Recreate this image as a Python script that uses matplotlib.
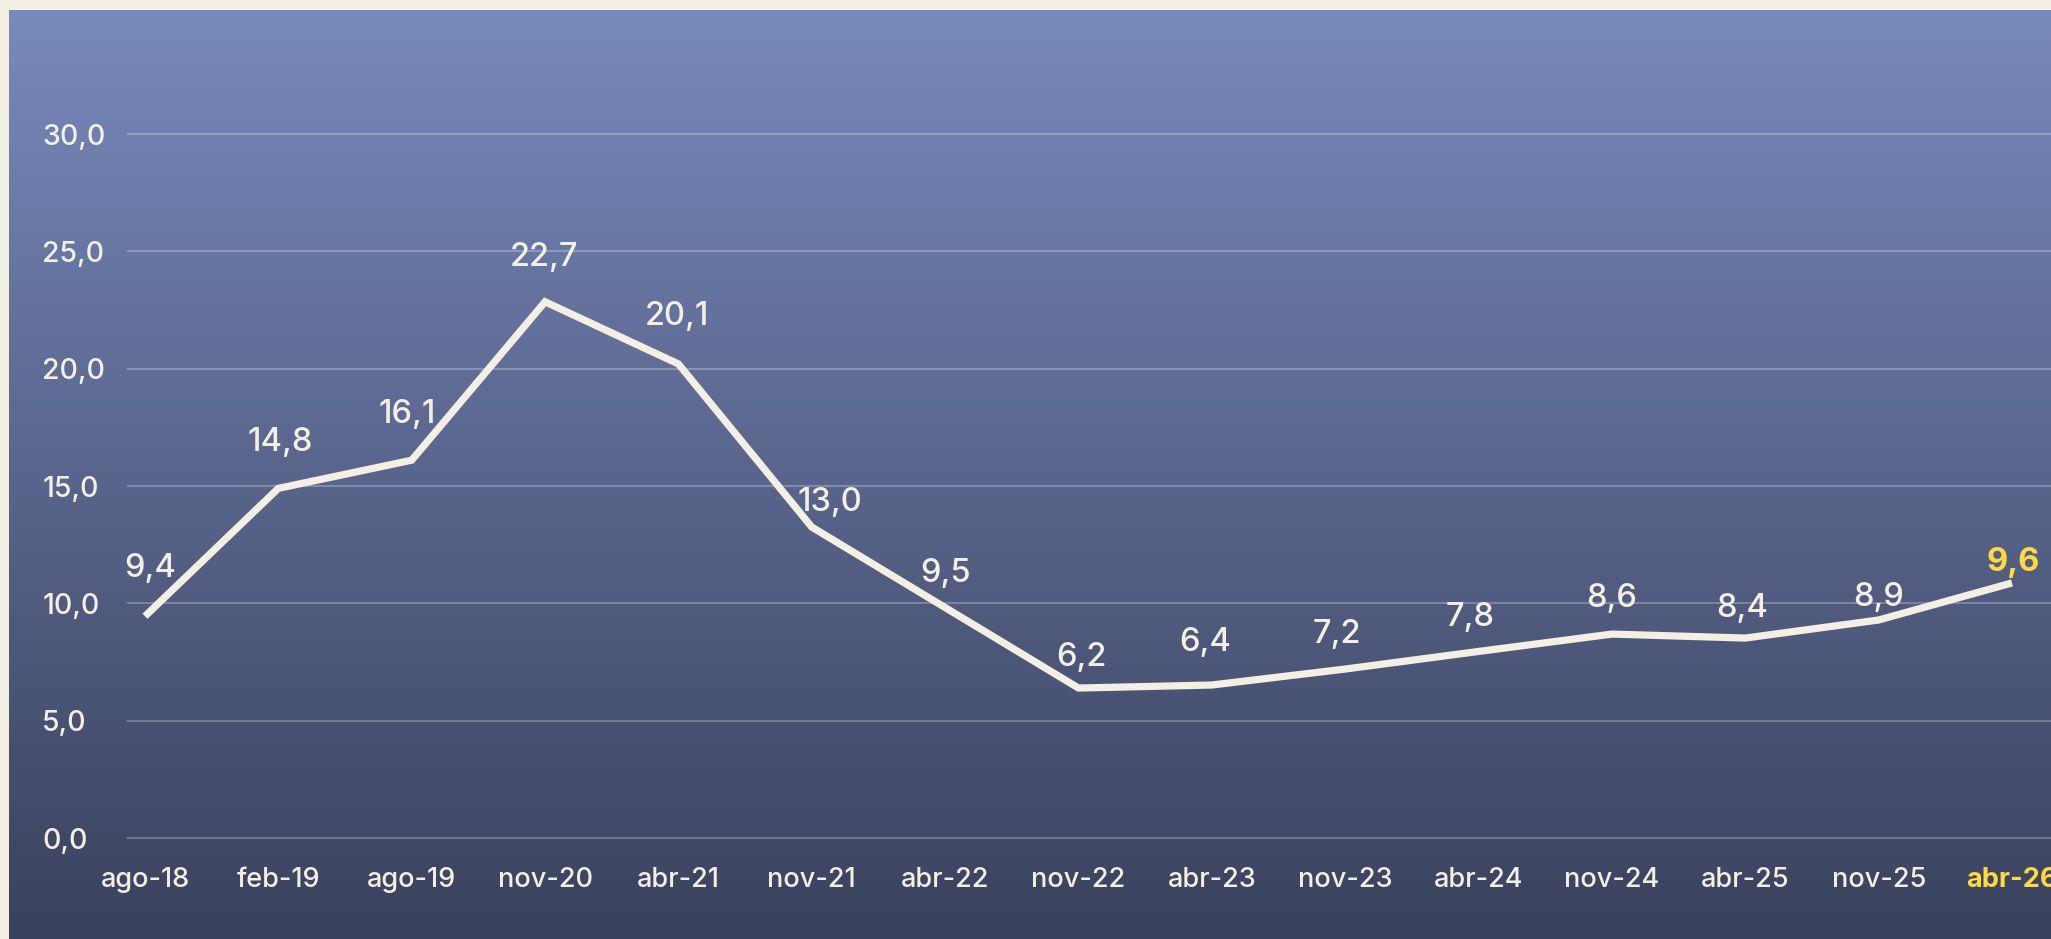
import numpy as np
import matplotlib.pyplot as plt
from matplotlib.colors import LinearSegmentedColormap

plt.rcParams['font.family'] = ['Inter', 'DejaVu Sans']
plt.rcParams['font.weight'] = 500

# datos
fechas = ['ago-18', 'feb-19', 'ago-19', 'nov-20', 'abr-21', 'nov-21', 'abr-22', 'nov-22',
          'abr-23', 'nov-23', 'abr-24', 'nov-24', 'abr-25', 'nov-25', 'abr-26']
valores_linea = [9.45, 14.9, 16.1, 22.85, 20.2, 13.25, 9.82, 6.39,
                 6.52, 7.2, 7.95, 8.69, 8.52, 9.29, 10.87]
valores_etiqueta = [9.4, 14.8, 16.1, 22.7, 20.1, 13.0, 9.5, 6.2,
                    6.4, 7.2, 7.8, 8.6, 8.4, 8.9, 9.6]
y_ticks = [0, 5, 10, 15, 20, 25, 30]

# desplazamiento de cada etiqueta respecto al punto (pixeles)
desplaz = [(5, 48), (2, 46), (-5, 46), (-1, 44), (-1, 47), (18, 25), (0, 34), (3, 31),
           (-7, 42), (-8, 35), (-8, 34), (0, 36), (-3, 30), (0, 22), (1, 20)]

crema = '#F3EFE3'
amarillo = '#FFD942'

def coma(v):
    return f'{v:.1f}'.replace('.', ',')

W, H = 2051, 939
fig = plt.figure(figsize=(W / 100, H / 100), dpi=100, facecolor=crema)

# fondo degradado
bg = fig.add_axes([9 / W, 0, 1 - 9 / W, 1 - 10 / H])
cmap = LinearSegmentedColormap.from_list('fondo', ['#3A415C', '#7889BC'])
grad = np.linspace(0, 1, 256).reshape(-1, 1)
bg.imshow(grad, cmap=cmap, aspect='auto', origin='lower', extent=[0, 1, 0, 1])
bg.axis('off')

# eje principal (0 en y=838 px, 30 en y=134 px)
px_unit = (838 - 134) / 30
y0, y1 = -0.5, 30.5
top_px = 134 - (y1 - 30) * px_unit
bot_px = 838 + (0 - y0) * px_unit
ax = fig.add_axes([127 / W, (H - bot_px) / H, 1 - 127 / W, (bot_px - top_px) / H])
ax.set_facecolor('none')

x = np.arange(len(fechas))
paso = (2012 - 145) / 14
ax.set_xlim(-(145 - 127) / paso, 14 + (2051 - 2012) / paso)
ax.set_ylim(y0, y1)

ax.plot(x, valores_linea, color=crema, lw=5.2, solid_joinstyle='miter',
        solid_capstyle='butt', zorder=3)

ax.set_yticks(y_ticks)
ax.set_yticklabels([coma(v) for v in y_ticks])
ax.grid(axis='y', color='white', alpha=0.25, lw=1.5)
ax.set_axisbelow(True)
for s in ax.spines.values():
    s.set_visible(False)
ax.tick_params(axis='y', length=0, pad=61, labelsize=20.5, labelcolor=crema)
for lbl in ax.get_yticklabels():
    lbl.set_horizontalalignment('left')

ax.set_xticks(x)
ax.set_xticklabels(fechas)
ax.tick_params(axis='x', length=0, pad=12.5, labelsize=19.5, labelcolor=crema)
ultima = ax.get_xticklabels()[-1]
ultima.set_color(amarillo)
ultima.set_fontweight('bold')

for i, (v, et, off) in enumerate(zip(valores_linea, valores_etiqueta, desplaz)):
    es_ultimo = i == len(fechas) - 1
    ax.annotate(coma(et), (i, v), xytext=off, textcoords='offset pixels',
                ha='center', va='center', fontsize=23.5,
                color=amarillo if es_ultimo else crema,
                fontweight='bold' if es_ultimo else 500,
                annotation_clip=False, zorder=4)

fig.savefig('out.png', dpi=100, facecolor=crema)
